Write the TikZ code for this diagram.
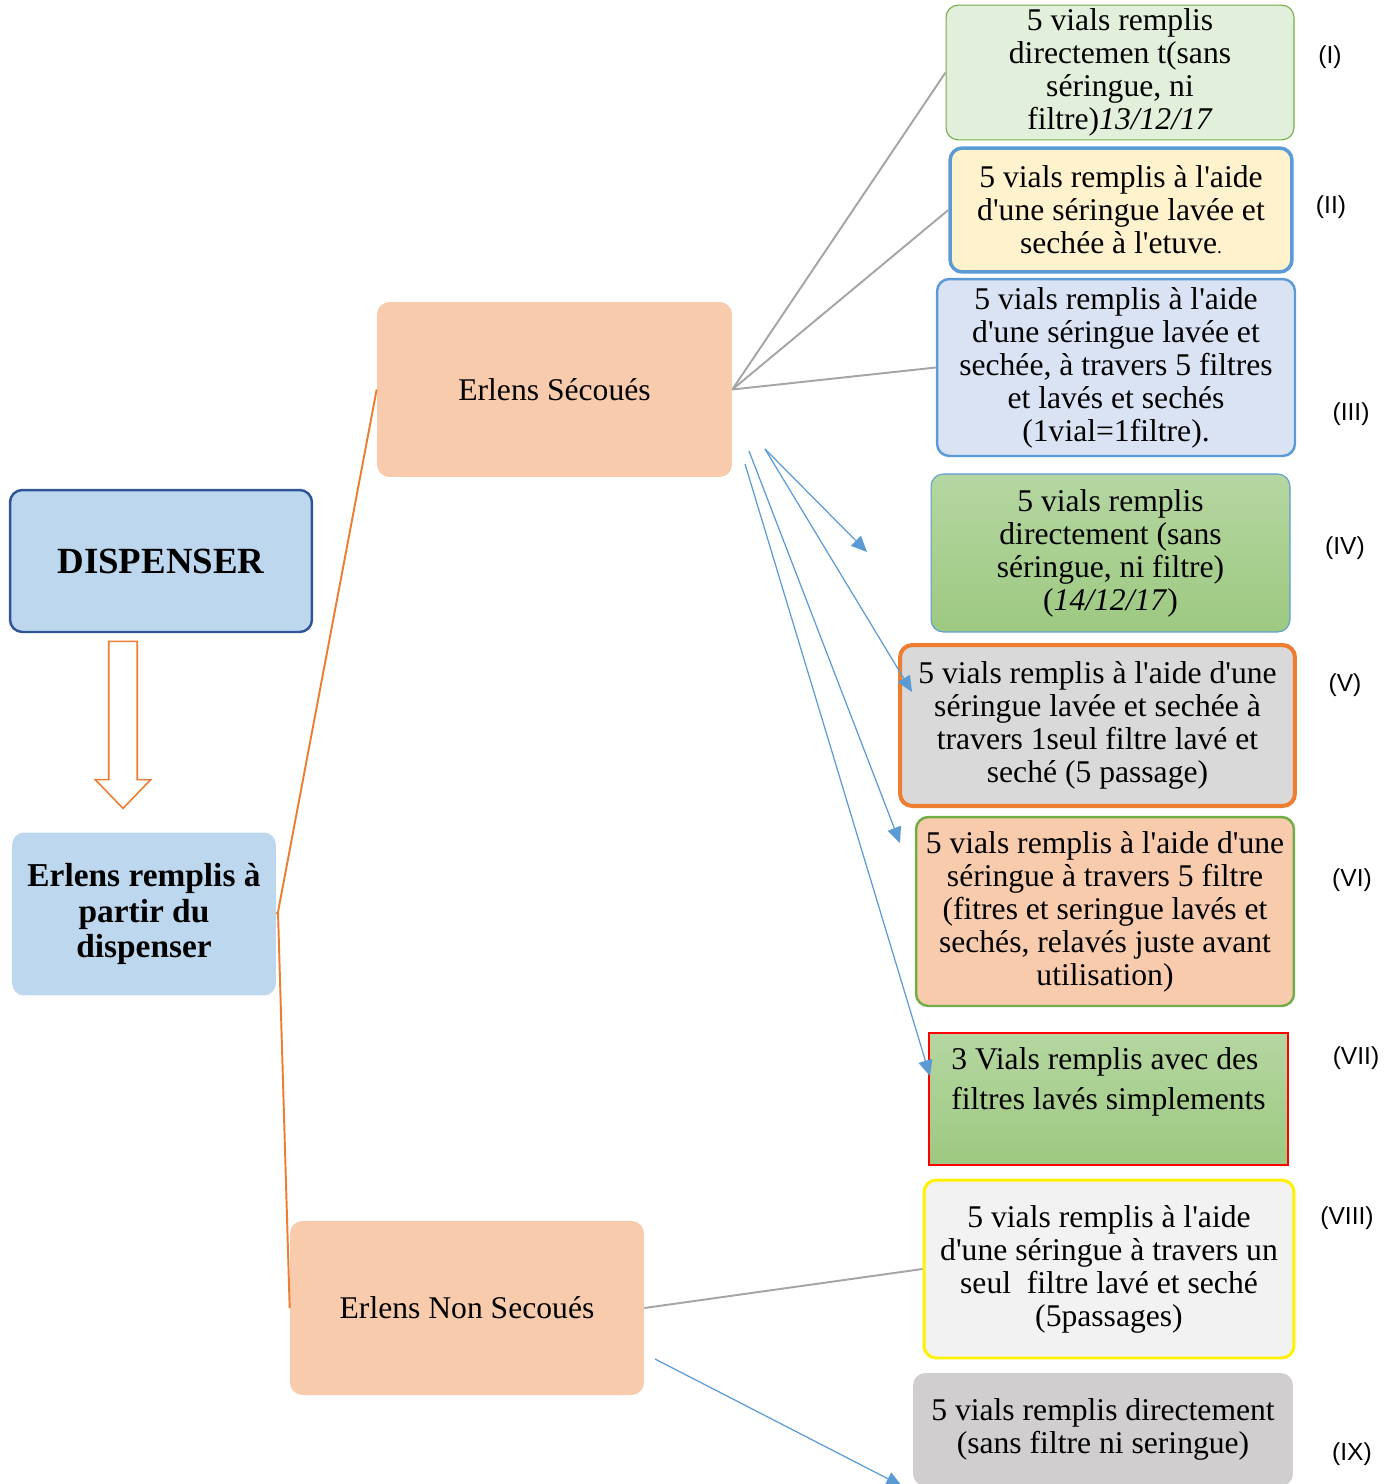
\documentclass[tikz,border=0pt]{standalone}
\usepackage{fontspec}
\setmainfont{Liberation Serif}[Ligatures=TeXOff]
\newfontfamily\labelfont{Liberation Sans}
\usepackage{tikz}
\usetikzlibrary{shapes,arrows,arrows.meta}
\usepackage{color}
\definecolor{paleblue}{HTML}{BDD7EE}
\definecolor{darkblue}{HTML}{2F5597}
\definecolor{peach}{HTML}{F8CBAD}
\definecolor{tangerine}{HTML}{ED7D31}
\definecolor{skyblue}{HTML}{5B9BD5}
\definecolor{leafgreen}{HTML}{70AD47}
\definecolor{mint}{HTML}{E2EFDA}
\definecolor{cream}{HTML}{FFF2CC}
\definecolor{mist}{HTML}{DAE3F3}
\definecolor{greentop}{HTML}{B5D6A1}
\definecolor{greenbot}{HTML}{9DC981}
\definecolor{silver}{HTML}{D9D9D9}
\definecolor{snow}{HTML}{F2F2F2}
\definecolor{stone}{HTML}{D0CECE}
\definecolor{linegray}{HTML}{A5A5A5}
\tikzstyle{block} = [draw, rectangle, rounded corners=7pt, align=center, inner sep=2pt, font=\fontsize{18}{18.8}\selectfont]
\tikzstyle{start} = [block, fill=paleblue, font=\bfseries]
\tikzstyle{erlen} = [block, draw=none, fill=peach, minimum width=7.1cm, minimum height=3.5cm]
\tikzstyle{tag} = [font=\labelfont\fontsize{14}{16}\selectfont]
\tikzstyle{branch} = [draw=linegray, line width=1.1pt]
\tikzstyle{link} = [draw=tangerine, line width=1.1pt]
\tikzstyle{pointer} = [draw=skyblue, line width=0.7pt, ->]
\begin{document}
\begin{tikzpicture}[x=0.02cm, y=-0.02cm, >={Triangle[length=9pt,width=8pt]}]
    \useasboundingbox (0,0) rectangle (1384,1484);
    % We start by placing the blocks
    \node [start, draw=darkblue, line width=1.4pt, minimum width=6.04cm, minimum height=2.84cm,
           font=\fontsize{21}{23}\selectfont\bfseries] (dispenser) at (161,561) {DISPENSER};
    \node [single arrow, draw=tangerine, fill=white, line width=0.9pt, shape border rotate=270,
           minimum height=3.34cm, single arrow head extend=0.27cm,
           single arrow tip angle=88, inner sep=0.27cm] (down) at (123,717.5) {};
    \node [start, draw=none, minimum width=5.28cm, minimum height=3.26cm,
           font=\fontsize{19}{20}\selectfont\bfseries] (remplis) at (144,914) {Erlens remplis à\\partir du\\dispenser};
    \coordinate (split) at (278,912);
    \node [erlen] (secoue) at (554.5,389.5) {Erlens Sécoués};
    \node [erlen, minimum width=7.08cm, minimum height=3.48cm] (nonsecoue) at (467,1308) {Erlens Non Secoués};

    \node [block, fill=mint, draw=leafgreen, line width=0.6pt, minimum width=6.96cm, minimum height=2.58cm] (v1) at (1120,72.5)
        {5 vials remplis\\directemen t(sans\\séringue, ni\\filtre)\textit{13/12/17}};
    \node [block, fill=cream, draw=skyblue, line width=2pt, minimum width=6.84cm, minimum height=2.48cm] (v2) at (1121,210)
        {5 vials remplis à l'aide\\d'une séringue lavée et\\sechée à l'etuve{\fontsize{11}{12}\selectfont .}};
    \node [block, fill=mist, draw=skyblue, line width=1.4pt, minimum width=7.16cm, minimum height=3.54cm] (v3) at (1116,367.5)
        {5 vials remplis à l'aide\\d'une séringue lavée et\\sechée, à travers 5 filtres\\et lavés et sechés\\(1vial=1filtre).};
    \node [block, top color=greentop, bottom color=greenbot, draw=skyblue, line width=0.6pt, minimum width=7.18cm, minimum height=3.16cm] (v4) at (1110.5,553)
        {5 vials remplis\\directement (sans\\séringue, ni filtre)\\(\textit{14/12/17})};
    \node [block, fill=silver, draw=tangerine, line width=2.3pt, minimum width=7.9cm, minimum height=3.22cm] (v5) at (1097.5,725.5)
        {5 vials remplis à l'aide d'une\\séringue lavée et sechée à\\travers 1seul filtre lavé et\\seché (5 passage)};
    \node [block, fill=peach, draw=leafgreen, line width=1.4pt, minimum width=7.56cm, minimum height=3.78cm] (v6) at (1105,911.5)
        {5 vials remplis à l'aide d'une\\séringue à travers 5 filtre\\(fitres et seringue lavés et\\sechés, relavés juste avant\\utilisation)};
    \node [block, sharp corners, align=left, top color=greentop, bottom color=greenbot, draw=red, line width=0.9pt, minimum width=7.18cm, minimum height=2.64cm] (v7) at (1108.5,1099)
        {3 Vials remplis avec des\\[4.5pt]filtres lavés simplements\\[4.5pt]\mbox{}};
    \node [block, fill=snow, draw=yellow, line width=1.7pt, minimum width=7.4cm, minimum height=3.56cm] (v8) at (1109,1269)
        {5 vials remplis à l'aide\\d'une séringue à travers un\\seul\ \ filtre lavé et seché\\(5passages)};
    \node [block, fill=stone, draw=none, minimum width=7.6cm, minimum height=2.26cm] (v9) at (1103,1429.5)
        {5 vials remplis directement\\(sans filtre ni seringue)};

    % numbering on the right
    \node [tag] (t1) at (1330,57) {(I)};
    \node [tag] (t2) at (1331,207) {(II)};
    \node [tag] (t3) at (1351,414) {(III)};
    \node [tag] (t4) at (1345,548) {(IV)};
    \node [tag] (t5) at (1345,685) {(V)};
    \node [tag] (t6) at (1352,880) {(VI)};
    \node [tag] (t7) at (1356,1058) {(VII)};
    \node [tag] (t8) at (1347,1218) {(VIII)};
    \node [tag] (t9) at (1352,1454) {(IX)};

    % free ends of the blue arrows
    \coordinate (s1) at (765,449);
    \coordinate (s2) at (749,451);
    \coordinate (s3) at (745,464);
    \coordinate (s4) at (655,1359);
    \coordinate (e1) at (867,552);
    \coordinate (e2) at (912,692);
    \coordinate (e3) at (900,843);
    \coordinate (e4) at (930,1076);
    \coordinate (e5) at (902,1486);

    % Once the nodes are placed, connecting them is easy.
    \draw [link] (remplis.east) -- (split);
    \draw [link] (split) -- (secoue.west);
    \draw [link] (split) -- (nonsecoue.west);
    \draw [branch] (secoue.east) -- (v1.west);
    \draw [branch] (secoue.east) -- (v2.west);
    \draw [branch] (secoue.east) -- (v3.west);
    \draw [branch] (nonsecoue.east) -- (v8.west);
    \draw [pointer] (s1) -- (e1);
    \draw [pointer] (s1) -- (e2);
    \draw [pointer] (s2) -- (e3);
    \draw [pointer] (s3) -- (e4);
    \draw [pointer] (s4) -- (e5);
\end{tikzpicture}
\end{document}
